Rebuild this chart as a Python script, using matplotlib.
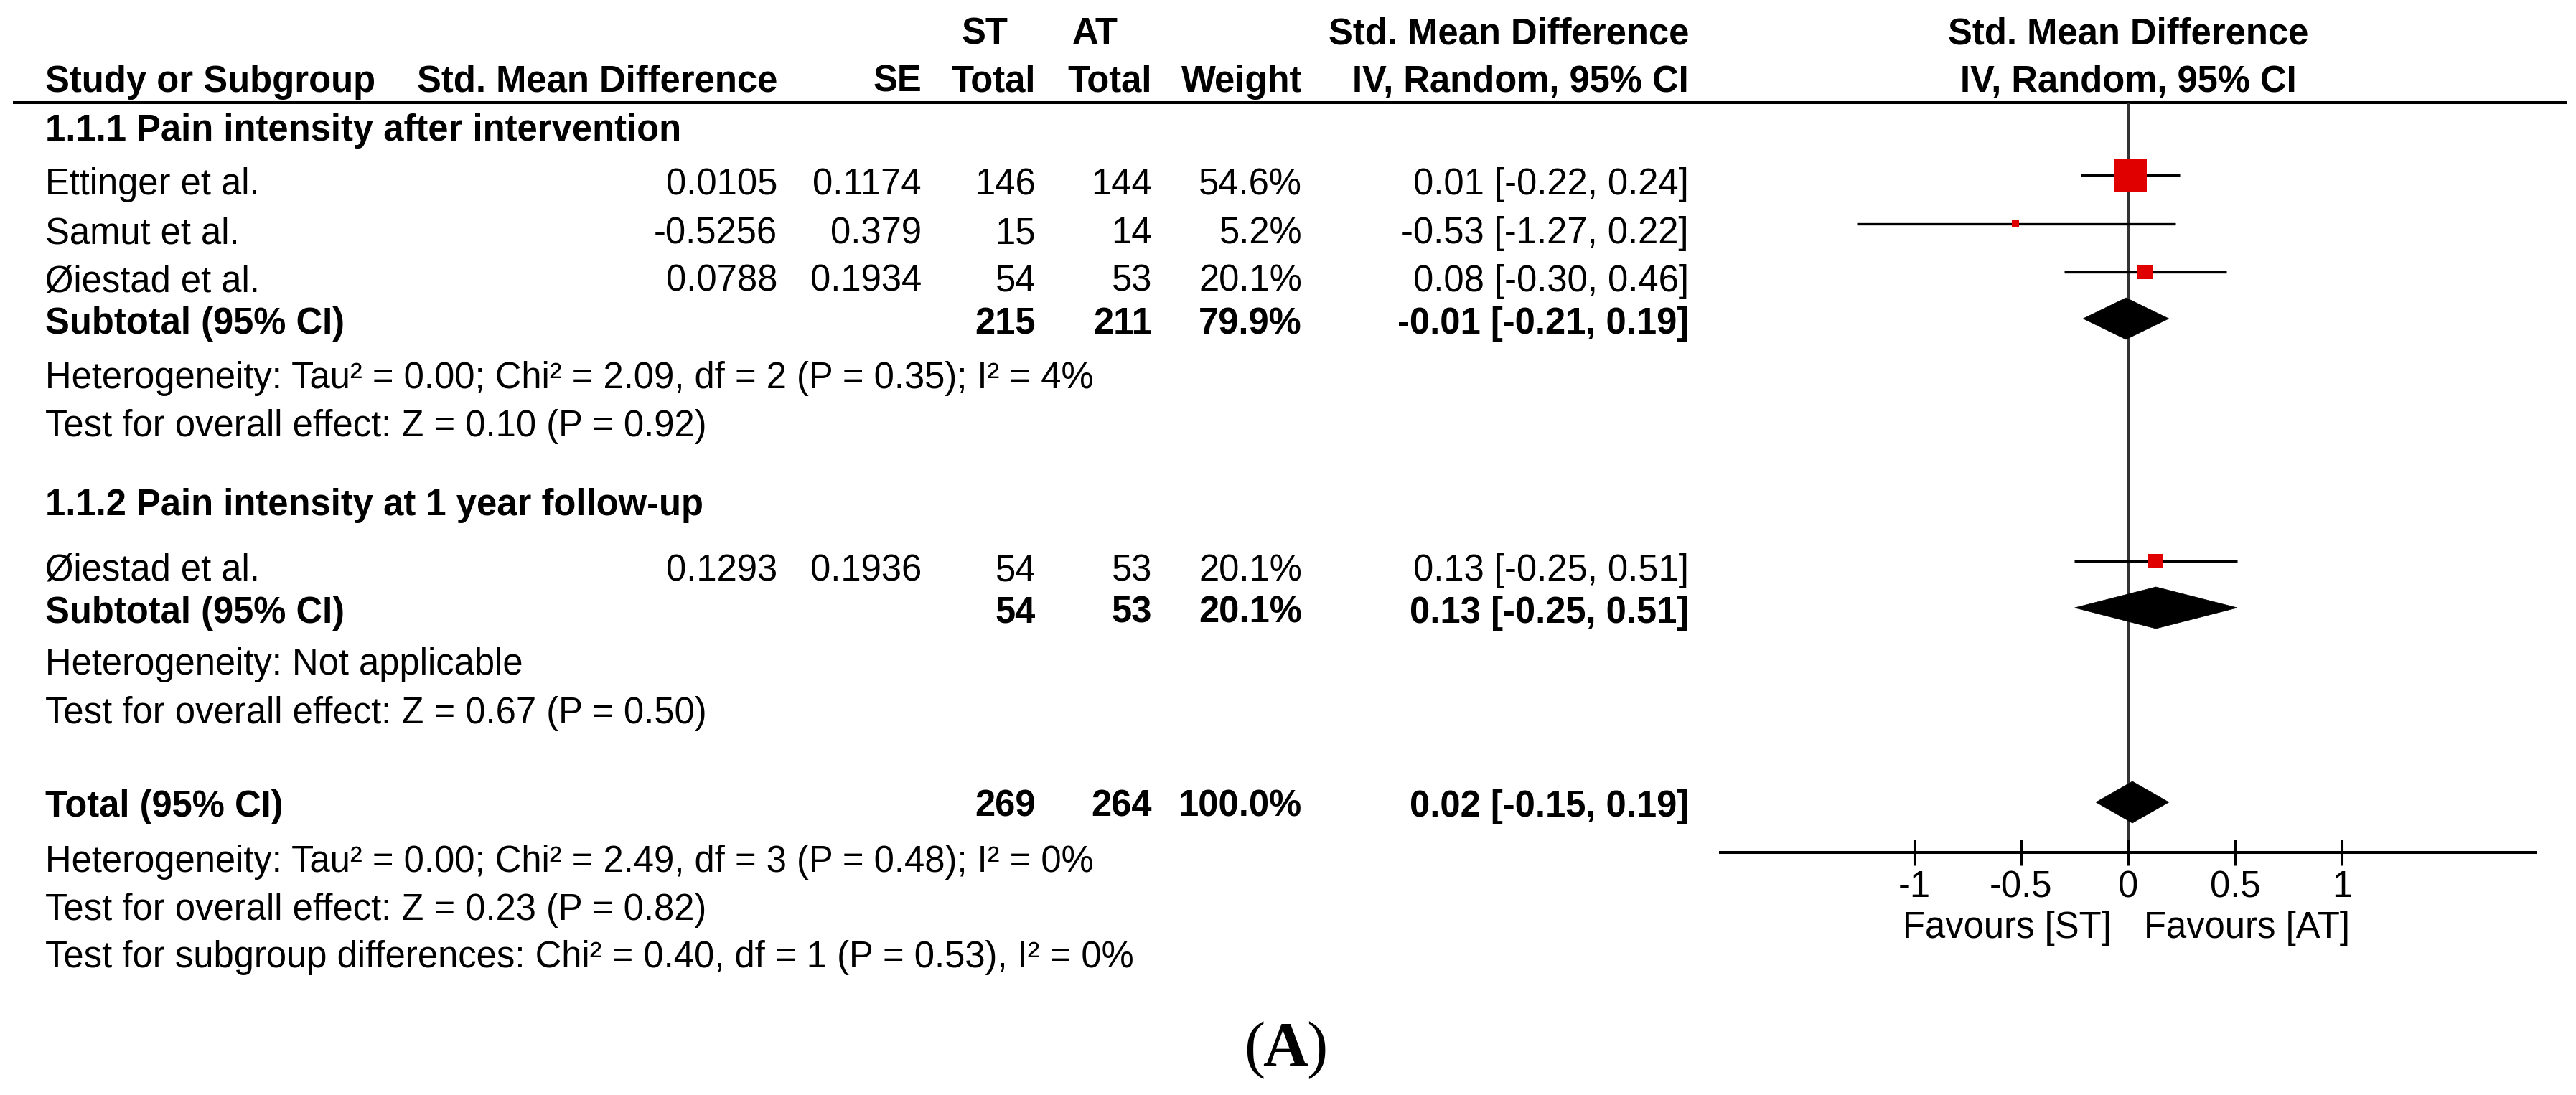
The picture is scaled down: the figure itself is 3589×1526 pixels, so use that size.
import matplotlib
matplotlib.use('Agg')
import matplotlib.pyplot as plt
from matplotlib.patches import Polygon

plt.rcParams['font.family'] = ['Liberation Sans', 'DejaVu Sans']
plt.rcParams['axes.unicode_minus'] = False

# ---------------- data ----------------
group_titles = ['1.1.1 Pain intensity after intervention',
                '1.1.2 Pain intensity at 1 year follow-up']

study_names = ['Ettinger et al.', 'Samut et al.', 'Øiestad et al.', 'Øiestad et al.']
study_smd = [0.0105, -0.5256, 0.0788, 0.1293]
study_se = [0.1174, 0.379, 0.1934, 0.1936]
study_st = [146, 15, 54, 54]
study_at = [144, 14, 53, 53]
study_weight = [54.6, 5.2, 20.1, 20.1]
study_ci_low = [-0.22, -1.27, -0.30, -0.25]
study_ci_high = [0.24, 0.22, 0.46, 0.51]

sub_st = [215, 54]
sub_at = [211, 53]
sub_weight = [79.9, 20.1]
sub_est = [-0.01, 0.13]
sub_ci_low = [-0.21, -0.25]
sub_ci_high = [0.19, 0.51]
sub_het = ['Heterogeneity: Tau² = 0.00; Chi² = 2.09, df = 2 (P = 0.35); I² = 4%',
           'Heterogeneity: Not applicable']
sub_test = ['Test for overall effect: Z = 0.10 (P = 0.92)',
            'Test for overall effect: Z = 0.67 (P = 0.50)']

total_st = 269
total_at = 264
total_weight = 100.0
total_est = 0.02
total_ci_low = -0.15
total_ci_high = 0.19
total_notes = ['Heterogeneity: Tau² = 0.00; Chi² = 2.49, df = 3 (P = 0.48); I² = 0%',
               'Test for overall effect: Z = 0.23 (P = 0.82)',
               'Test for subgroup differences: Chi² = 0.40, df = 1 (P = 0.53), I² = 0%']

axis_ticks = [-1, -0.5, 0, 0.5, 1]
axis_tick_labels = ['-1', '-0.5', '0', '0.5', '1']
favours = ['Favours [ST]', 'Favours [AT]']

# ---------------- layout (pixels) ----------------
W, H = 3589, 1526
FS = 36.5
PX = 0.72  # points per pixel at dpi 100

# column x (left for names, right edge for numbers)
x_name = 63
x_smd = 1083
x_se = 1284
x_st = 1443
x_at = 1605
x_w = 1814
x_ci = 2353

# row y (pixel rows, from top)
title_base = [196, 718]
study_rows = [244, 312, 379, 782]
sub_rows = [444, 847]
het_base = [541, 940]
test_base = [608, 1008]
total_row = 1118
notes_base = [1215, 1282, 1348]

fig = plt.figure(figsize=(W / 100, H / 100), dpi=100)
ax = fig.add_axes([0, 0, 1, 1])
ax.set_xlim(0, W)
ax.set_ylim(H, 0)
ax.axis('off')


def put(x, y, s, ha='left', bold=False, size=FS):
    ax.text(x, y, s, ha=ha, va='baseline', fontsize=size,
            fontweight='bold' if bold else 'normal', color='black')


def ci_text(e, lo, hi):
    return f'{e:.2f} [{lo:.2f}, {hi:.2f}]'


# header
put(1372, 61, 'ST', ha='center', bold=True)
put(1526, 61, 'AT', ha='center', bold=True)
put(x_ci, 61, 'Std. Mean Difference', ha='right', bold=True)
put(2965, 61, 'Std. Mean Difference', ha='center', bold=True)
put(x_name, 128, 'Study or Subgroup', bold=True)
put(x_smd, 128, 'Std. Mean Difference', ha='right', bold=True)
put(x_se, 128, 'SE', ha='right', bold=True)
put(x_st, 128, 'Total', ha='right', bold=True)
put(x_at, 128, 'Total', ha='right', bold=True)
put(x_w, 128, 'Weight', ha='right', bold=True)
put(x_ci, 128, 'IV, Random, 95% CI', ha='right', bold=True)
put(2965, 128, 'IV, Random, 95% CI', ha='center', bold=True)
ax.plot([18, 3576], [143, 143], color='black', lw=2.9, solid_capstyle='butt')

# study rows
for i, name in enumerate(study_names):
    yb = study_rows[i] + 27
    put(x_name, yb, name)
    put(x_smd, yb, str(study_smd[i]), ha='right')
    put(x_se, yb, str(study_se[i]), ha='right')
    put(x_st, yb, str(study_st[i]), ha='right')
    put(x_at, yb, str(study_at[i]), ha='right')
    put(x_w, yb, f'{study_weight[i]:.1f}%', ha='right')
    put(x_ci, yb, ci_text(study_smd[i], study_ci_low[i], study_ci_high[i]), ha='right')

# subgroup rows
for g in range(2):
    put(x_name, title_base[g], group_titles[g], bold=True)
    yb = sub_rows[g] + 21
    put(x_name, yb, 'Subtotal (95% CI)', bold=True)
    put(x_st, yb, str(sub_st[g]), ha='right', bold=True)
    put(x_at, yb, str(sub_at[g]), ha='right', bold=True)
    put(x_w, yb, f'{sub_weight[g]:.1f}%', ha='right', bold=True)
    put(x_ci, yb, ci_text(sub_est[g], sub_ci_low[g], sub_ci_high[g]), ha='right', bold=True)
    put(x_name, het_base[g], sub_het[g])
    put(x_name, test_base[g], sub_test[g])

# total
yb = total_row + 20
put(x_name, yb, 'Total (95% CI)', bold=True)
put(x_st, yb, str(total_st), ha='right', bold=True)
put(x_at, yb, str(total_at), ha='right', bold=True)
put(x_w, yb, f'{total_weight:.1f}%', ha='right', bold=True)
put(x_ci, yb, ci_text(total_est, total_ci_low, total_ci_high), ha='right', bold=True)
for note, b in zip(total_notes, notes_base):
    put(x_name, b, note)

# panel label
ax.text(1762, 1485, '(', ha='right', va='baseline', fontsize=63, family='Liberation Serif')
ax.text(1791, 1485, 'A', ha='center', va='baseline', fontsize=63, family='Liberation Serif',
        fontweight='bold')
ax.text(1820, 1485, ')', ha='left', va='baseline', fontsize=63, family='Liberation Serif')

# ---------------- forest plot ----------------
fx0, fx1, fy_top, fy_bot = 2397, 3533, 143, 1188
axf = fig.add_axes([fx0 / W, 1 - fy_bot / H, (fx1 - fx0) / W, (fy_bot - fy_top) / H])
axf.set_xlim(-1.906, 1.906)
axf.set_ylim(fy_bot, fy_top)
axf.patch.set_alpha(0)
for s in ['top', 'left', 'right']:
    axf.spines[s].set_visible(False)
axf.spines['bottom'].set_linewidth(2.9)
axf.set_yticks([])
axf.set_xticks(axis_ticks, axis_tick_labels)
axf.tick_params(axis='x', direction='inout', length=26.6, width=2.2, pad=4.0,
                labelsize=FS)

axf.axvline(0, color='#333333', lw=2.4, zorder=1)

# study CIs and weighted squares
axf.hlines(study_rows, study_ci_low, study_ci_high, color='black', lw=2.4, zorder=2)
sizes = [((6.4 + 0.725 * w) * PX) ** 2 for w in study_weight]
axf.scatter(study_smd, study_rows, s=sizes, marker='s', color='#e00000',
            edgecolors='none', zorder=3)

# diamonds
half = 29
diamonds = list(zip(sub_est, sub_ci_low, sub_ci_high, sub_rows))
diamonds.append((total_est, total_ci_low, total_ci_high, total_row))
for e, lo, hi, y in diamonds:
    axf.add_patch(Polygon([(lo, y), (e, y - half), (hi, y), (e, y + half)],
                          closed=True, facecolor='black', edgecolor='black', lw=0.5,
                          zorder=3))

axf.annotate(favours[0], xy=(0, 0), xycoords=('data', 'axes fraction'),
             xytext=(-17, -85.7), textcoords='offset points', ha='right', va='baseline',
             fontsize=FS)
axf.annotate(favours[1], xy=(0, 0), xycoords=('data', 'axes fraction'),
             xytext=(16, -85.7), textcoords='offset points', ha='left', va='baseline',
             fontsize=FS)

fig.savefig('out.png', dpi=100)
